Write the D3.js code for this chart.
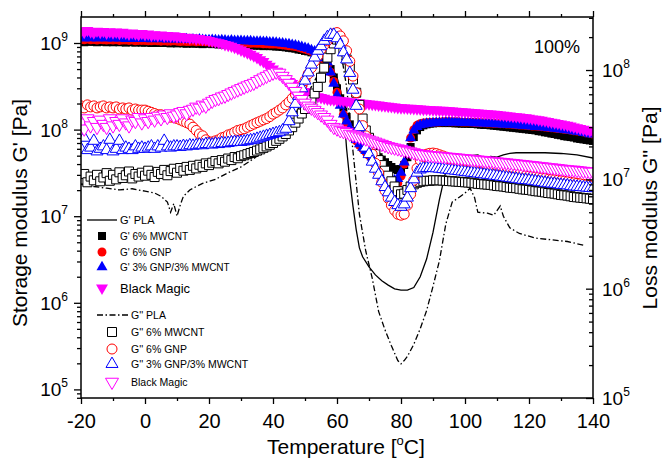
<!DOCTYPE html>
<html>
<head>
<meta charset="utf-8">
<script src="https://cdn.jsdelivr.net/npm/d3@7"></script>
<style>
html, body { margin: 0; padding: 0; background: #fff; }
svg { display: block; font-family: "Liberation Sans", Arial, sans-serif; }
</style>
</head>
<body>
<svg id="chart" width="663" height="459"></svg>
<script>
// ---- Temperature of each DMA reading [°C] ----
const temps = [
  -20,-19,-18,-17,-16,-15,-14,-13,-12,-11,
  -10,-9,-8,-7,-6,-5,-4,-3,-2,-1,
  0,1,2,3,4,5,6,7,8,9,
  10,11,12,13,14,15,16,17,18,19,
  20,21,22,23,24,25,26,27,28,29,
  30,31,32,33,34,35,36,37,38,39,
  40,41,42,43,44,45,46,47,48,49,
  50,51,52,53,54,55,56,57,58,59,
  60,61,62,63,64,65,66,67,68,69,
  70,71,72,73,74,75,76,77,78,79,
  80,81,82,83,84,85,86,87,88,89,
  90,91,92,93,94,95,96,97,98,99,
  100,101,102,103,104,105,106,107,108,109,
  110,111,112,113,114,115,116,117,118,119,
  120,121,122,123,124,125,126,127,128,129,
  130,131,132,133,134,135,136,137,138,139,
  140
];

// ---- Storage modulus G' [Pa] ----
const gMWCNT = [
  1.04e9,1.02e9,1.05e9,1.03e9,1.04e9,1.02e9,1.03e9,1.05e9,1.02e9,1.03e9,
  1.02e9,1.04e9,1.02e9,1.03e9,1.01e9,1.03e9,1.02e9,1.01e9,1.03e9,1.01e9,
  1.01e9,1.02e9,1.0e9,1.02e9,1.0e9,1.01e9,1.0e9,1.02e9,9.9e8,1.0e9,
  9.9e8,1.0e9,9.9e8,9.8e8,1.0e9,9.8e8,9.9e8,9.8e8,9.7e8,9.9e8,
  9.8e8,9.7e8,9.8e8,9.6e8,9.7e8,9.6e8,9.7e8,9.5e8,9.6e8,9.5e8,
  9.5e8,9.4e8,9.5e8,9.4e8,9.3e8,9.4e8,9.3e8,9.2e8,9.3e8,9.2e8,
  9.2e8,9.1e8,9.1e8,9.0e8,8.9e8,8.8e8,8.7e8,8.6e8,8.4e8,8.3e8,
  8.1e8,8.0e8,7.8e8,7.6e8,7.3e8,7.0e8,6.5e8,5.9e8,5.0e8,4.0e8,
  3.0e8,2.3e8,1.8e8,1.4e8,1.15e8,9.6e7,8.4e7,7.6e7,7.0e7,6.5e7,
  6.0e7,5.6e7,5.2e7,4.8e7,4.5e7,4.2e7,3.9e7,3.7e7,3.5e7,3.4e7,
  3.5e7,3.9e7,4.8e7,6.3e7,8.2e7,9.8e7,1.07e8,1.12e8,1.15e8,1.17e8,
  1.18e8,1.19e8,1.19e8,1.19e8,1.19e8,1.19e8,1.19e8,1.18e8,1.18e8,1.17e8,
  1.17e8,1.17e8,1.16e8,1.16e8,1.15e8,1.14e8,1.13e8,1.13e8,1.12e8,1.11e8,
  1.1e8,1.09e8,1.08e8,1.07e8,1.06e8,1.05e8,1.04e8,1.03e8,1.02e8,1.01e8,
  1.0e8,9.9e7,9.8e7,9.6e7,9.5e7,9.3e7,9.2e7,9.0e7,8.9e7,8.7e7,
  8.6e7,8.4e7,8.3e7,8.2e7,8.1e7,7.9e7,7.8e7,7.7e7,7.6e7,7.5e7,
  7.4e7
];
const gGNP = [
  1.1e9,1.09e9,1.11e9,1.09e9,1.1e9,1.08e9,1.1e9,1.09e9,1.08e9,1.09e9,
  1.08e9,1.09e9,1.07e9,1.08e9,1.08e9,1.07e9,1.08e9,1.06e9,1.07e9,1.07e9,
  1.07e9,1.06e9,1.06e9,1.07e9,1.06e9,1.05e9,1.06e9,1.05e9,1.05e9,1.06e9,
  1.05e9,1.04e9,1.05e9,1.04e9,1.04e9,1.05e9,1.03e9,1.04e9,1.04e9,1.03e9,
  1.03e9,1.02e9,1.03e9,1.02e9,1.02e9,1.01e9,1.02e9,1.01e9,1.01e9,1.0e9,
  1.01e9,1.0e9,1.0e9,9.9e8,1.0e9,9.9e8,9.9e8,9.8e8,9.8e8,9.7e8,
  9.7e8,9.7e8,9.6e8,9.5e8,9.4e8,9.3e8,9.2e8,9.1e8,8.9e8,8.7e8,
  8.5e8,8.3e8,8.0e8,7.7e8,7.4e8,7.0e8,6.4e8,5.6e8,4.6e8,3.6e8,
  2.7e8,2.0e8,1.5e8,1.2e8,1.0e8,8.5e7,7.4e7,6.6e7,6.0e7,5.5e7,
  5.0e7,4.5e7,4.0e7,3.6e7,3.2e7,2.9e7,2.6e7,2.4e7,2.3e7,2.4e7,
  2.9e7,4.0e7,5.6e7,8.0e7,1.0e8,1.12e8,1.17e8,1.19e8,1.2e8,1.21e8,
  1.22e8,1.22e8,1.22e8,1.23e8,1.23e8,1.23e8,1.23e8,1.23e8,1.23e8,1.22e8,
  1.22e8,1.22e8,1.22e8,1.21e8,1.21e8,1.2e8,1.2e8,1.19e8,1.19e8,1.18e8,
  1.18e8,1.17e8,1.17e8,1.16e8,1.16e8,1.15e8,1.14e8,1.13e8,1.13e8,1.12e8,
  1.11e8,1.1e8,1.1e8,1.09e8,1.08e8,1.07e8,1.06e8,1.05e8,1.04e8,1.03e8,
  1.02e8,1.01e8,1.0e8,9.9e7,9.7e7,9.6e7,9.5e7,9.4e7,9.2e7,9.1e7,
  8.9e7
];
const gHybrid = [
  1.15e9,1.13e9,1.17e9,1.14e9,1.16e9,1.13e9,1.15e9,1.17e9,1.13e9,1.15e9,
  1.13e9,1.16e9,1.13e9,1.14e9,1.12e9,1.15e9,1.13e9,1.12e9,1.14e9,1.12e9,
  1.12e9,1.14e9,1.11e9,1.12e9,1.13e9,1.11e9,1.12e9,1.1e9,1.12e9,1.11e9,
  1.1e9,1.12e9,1.1e9,1.11e9,1.09e9,1.1e9,1.09e9,1.1e9,1.09e9,1.08e9,
  1.08e9,1.09e9,1.08e9,1.07e9,1.08e9,1.07e9,1.06e9,1.07e9,1.06e9,1.06e9,
  1.06e9,1.05e9,1.05e9,1.05e9,1.04e9,1.04e9,1.04e9,1.03e9,1.03e9,1.02e9,
  1.02e9,1.01e9,1.0e9,9.9e8,9.8e8,9.7e8,9.5e8,9.4e8,9.2e8,9.0e8,
  8.8e8,8.6e8,8.3e8,8.0e8,7.7e8,7.3e8,6.7e8,6.0e8,4.6e8,3.4e8,
  2.5e8,1.9e8,1.5e8,1.25e8,1.05e8,9.0e7,7.6e7,6.8e7,6.2e7,5.7e7,
  5.3e7,4.8e7,4.3e7,3.9e7,3.5e7,3.2e7,2.9e7,2.7e7,2.6e7,2.7e7,
  3.2e7,4.2e7,5.8e7,8.0e7,9.8e7,1.08e8,1.13e8,1.15e8,1.17e8,1.18e8,
  1.19e8,1.2e8,1.2e8,1.2e8,1.21e8,1.21e8,1.21e8,1.21e8,1.21e8,1.2e8,
  1.2e8,1.2e8,1.2e8,1.19e8,1.19e8,1.19e8,1.18e8,1.18e8,1.17e8,1.17e8,
  1.16e8,1.16e8,1.15e8,1.15e8,1.14e8,1.14e8,1.13e8,1.12e8,1.11e8,1.11e8,
  1.1e8,1.09e8,1.08e8,1.08e8,1.07e8,1.06e8,1.05e8,1.04e8,1.03e8,1.02e8,
  1.01e8,1.0e8,9.9e7,9.8e7,9.6e7,9.5e7,9.4e7,9.2e7,9.1e7,8.9e7,
  8.8e7
];
const gBlackMagic = [
  1.38e9,1.33e9,1.40e9,1.35e9,1.31e9,1.37e9,1.33e9,1.36e9,1.30e9,1.35e9,
  1.31e9,1.34e9,1.29e9,1.33e9,1.30e9,1.27e9,1.31e9,1.28e9,1.25e9,1.29e9,
  1.25e9,1.27e9,1.23e9,1.25e9,1.22e9,1.24e9,1.21e9,1.22e9,1.2e9,1.21e9,
  1.18e9,1.19e9,1.16e9,1.17e9,1.14e9,1.15e9,1.12e9,1.13e9,1.1e9,1.1e9,
  1.07e9,1.05e9,1.03e9,1.01e9,9.9e8,9.6e8,9.4e8,9.2e8,8.9e8,8.6e8,
  8.3e8,8.0e8,7.7e8,7.4e8,7.1e8,6.8e8,6.4e8,6.1e8,5.7e8,5.4e8,
  5.0e8,4.7e8,4.4e8,4.1e8,3.9e8,3.6e8,3.4e8,3.2e8,3.0e8,2.9e8,
  2.75e8,2.65e8,2.55e8,2.47e8,2.4e8,2.35e8,2.3e8,2.25e8,2.22e8,2.2e8,
  2.18e8,2.16e8,2.14e8,2.12e8,2.1e8,2.08e8,2.06e8,2.04e8,2.02e8,2.0e8,
  1.98e8,1.96e8,1.94e8,1.92e8,1.9e8,1.88e8,1.86e8,1.84e8,1.82e8,1.8e8,
  1.79e8,1.78e8,1.77e8,1.76e8,1.75e8,1.74e8,1.73e8,1.72e8,1.71e8,1.7e8,
  1.69e8,1.68e8,1.67e8,1.67e8,1.66e8,1.65e8,1.64e8,1.63e8,1.62e8,1.61e8,
  1.6e8,1.59e8,1.58e8,1.57e8,1.56e8,1.55e8,1.54e8,1.53e8,1.52e8,1.51e8,
  1.5e8,1.48e8,1.47e8,1.45e8,1.44e8,1.42e8,1.41e8,1.4e8,1.38e8,1.37e8,
  1.35e8,1.33e8,1.32e8,1.3e8,1.28e8,1.26e8,1.24e8,1.22e8,1.2e8,1.18e8,
  1.16e8,1.14e8,1.12e8,1.1e8,1.07e8,1.05e8,1.03e8,1.01e8,9.9e7,9.7e7,
  9.5e7
];

// ---- Loss modulus G'' [Pa] ----
const lMWCNT = [
  1.0e7,1.12e7,9.4e6,1.06e7,9.8e6,1.1e7,9.6e6,1.04e7,1.14e7,9.7e6,
  1.1e7,1.0e7,1.16e7,1.03e7,1.09e7,1.18e7,1.02e7,1.12e7,1.06e7,1.15e7,
  1.08e7,1.2e7,1.1e7,1.05e7,1.17e7,1.12e7,1.22e7,1.09e7,1.19e7,1.25e7,
  1.15e7,1.27e7,1.2e7,1.3e7,1.22e7,1.33e7,1.26e7,1.36e7,1.3e7,1.4e7,
  1.35e7,1.42e7,1.47e7,1.4e7,1.5e7,1.45e7,1.55e7,1.5e7,1.6e7,1.56e7,
  1.63e7,1.66e7,1.7e7,1.74e7,1.78e7,1.83e7,1.88e7,1.94e7,2.0e7,2.07e7,
  2.15e7,2.25e7,2.35e7,2.47e7,2.6e7,2.8e7,3.0e7,3.3e7,3.6e7,4.0e7,
  4.4e7,4.8e7,5.3e7,6.1e7,7.0e7,8.5e7,1.05e8,1.3e8,1.55e8,1.75e8,
  1.9e8,1.8e8,1.5e8,1.25e8,1.05e8,8.2e7,6.2e7,4.8e7,3.6e7,2.8e7,
  2.4e7,2.0e7,1.7e7,1.5e7,1.35e7,1.2e7,1.08e7,9.6e6,8.6e6,7.8e6,
  7.3e6,7.4e6,8.0e6,8.6e6,9.0e6,9.3e6,9.5e6,9.6e6,9.7e6,9.7e6,
  9.8e6,9.8e6,9.8e6,9.75e6,9.7e6,9.65e6,9.6e6,9.55e6,9.5e6,9.45e6,
  9.4e6,9.35e6,9.3e6,9.2e6,9.1e6,9.05e6,9.0e6,8.95e6,8.9e6,8.8e6,
  8.7e6,8.65e6,8.6e6,8.5e6,8.4e6,8.35e6,8.3e6,8.2e6,8.1e6,8.05e6,
  8.0e6,7.9e6,7.8e6,7.75e6,7.7e6,7.6e6,7.5e6,7.45e6,7.4e6,7.3e6,
  7.2e6,7.15e6,7.1e6,7.0e6,6.9e6,6.85e6,6.8e6,6.75e6,6.7e6,6.65e6,
  6.6e6
];
const lGNP = [
  4.7e7,4.5e7,4.8e7,4.6e7,4.7e7,4.5e7,4.6e7,4.7e7,4.5e7,4.6e7,
  4.5e7,4.6e7,4.4e7,4.5e7,4.4e7,4.5e7,4.3e7,4.4e7,4.3e7,4.3e7,
  4.3e7,4.2e7,4.1e7,4.0e7,3.9e7,3.9e7,3.8e7,3.8e7,3.7e7,3.7e7,
  3.6e7,3.5e7,3.4e7,3.3e7,3.2e7,3.0e7,2.8e7,2.6e7,2.5e7,2.3e7,
  2.2e7,2.2e7,2.25e7,2.3e7,2.4e7,2.45e7,2.55e7,2.6e7,2.7e7,2.8e7,
  2.85e7,2.9e7,3.0e7,3.1e7,3.2e7,3.3e7,3.4e7,3.5e7,3.6e7,3.75e7,
  3.95e7,4.1e7,4.3e7,4.5e7,4.8e7,5.1e7,5.5e7,6.0e7,6.5e7,7.2e7,
  8.0e7,9.2e7,1.05e8,1.2e8,1.35e8,1.55e8,1.7e8,1.85e8,2.0e8,2.15e8,
  2.2e8,2.05e8,1.85e8,1.5e8,1.2e8,8.8e7,6.2e7,4.4e7,3.1e7,2.5e7,
  2.05e7,1.7e7,1.4e7,1.15e7,9.4e6,7.9e6,6.7e6,5.8e6,5.2e6,4.8e6,
  4.7e6,4.8e6,5.8e6,7.3e6,9.8e6,1.26e7,1.5e7,1.62e7,1.7e7,1.73e7,
  1.74e7,1.72e7,1.68e7,1.64e7,1.6e7,1.54e7,1.48e7,1.44e7,1.4e7,1.36e7,
  1.33e7,1.31e7,1.3e7,1.29e7,1.27e7,1.26e7,1.25e7,1.24e7,1.22e7,1.21e7,
  1.2e7,1.19e7,1.18e7,1.16e7,1.15e7,1.14e7,1.12e7,1.11e7,1.1e7,1.08e7,
  1.07e7,1.06e7,1.05e7,1.04e7,1.03e7,1.02e7,1.0e7,9.95e6,9.9e6,9.8e6,
  9.7e6,9.6e6,9.5e6,9.4e6,9.3e6,9.2e6,9.1e6,9.0e6,8.9e6,8.8e6,
  8.7e6
];
const lHybrid = [
  1.9e7,2.4e7,1.85e7,1.95e7,2.25e7,1.8e7,1.9e7,2.0e7,1.85e7,2.3e7,
  1.8e7,1.9e7,2.25e7,1.85e7,1.95e7,1.9e7,1.85e7,2.0e7,1.9e7,1.95e7,
  1.9e7,1.95e7,2.0e7,1.9e7,2.0e7,1.95e7,2.25e7,2.0e7,1.95e7,2.0e7,
  2.0e7,1.98e7,2.02e7,2.0e7,2.05e7,2.03e7,2.05e7,2.08e7,2.05e7,2.1e7,
  2.1e7,2.08e7,2.12e7,2.1e7,2.15e7,2.13e7,2.15e7,2.18e7,2.2e7,2.2e7,
  2.2e7,2.22e7,2.25e7,2.28e7,2.3e7,2.35e7,2.4e7,2.45e7,2.5e7,2.55e7,
  2.6e7,2.65e7,2.7e7,2.8e7,2.9e7,3.4e7,4.1e7,4.9e7,5.8e7,6.8e7,
  8.0e7,9.5e7,1.12e8,1.3e8,1.5e8,1.65e8,1.85e8,2.0e8,2.1e8,2.1e8,
  1.95e8,1.7e8,1.45e8,1.25e8,9.4e7,6.6e7,4.7e7,3.0e7,2.4e7,1.95e7,
  1.7e7,1.45e7,1.25e7,1.1e7,9.6e6,8.5e6,7.6e6,6.8e6,6.2e6,5.8e6,
  5.6e6,5.9e6,6.8e6,8.3e6,1.0e7,1.15e7,1.23e7,1.26e7,1.27e7,1.27e7,
  1.27e7,1.26e7,1.25e7,1.24e7,1.23e7,1.22e7,1.21e7,1.2e7,1.19e7,1.18e7,
  1.17e7,1.16e7,1.15e7,1.14e7,1.13e7,1.12e7,1.11e7,1.1e7,1.09e7,1.08e7,
  1.07e7,1.06e7,1.05e7,1.04e7,1.03e7,1.02e7,1.01e7,1.0e7,9.9e6,9.85e6,
  9.8e6,9.7e6,9.6e6,9.5e6,9.4e6,9.3e6,9.2e6,9.15e6,9.1e6,9.0e6,
  8.9e6,8.85e6,8.8e6,8.7e6,8.6e6,8.55e6,8.5e6,8.45e6,8.4e6,8.35e6,
  8.3e6
];
const lBlackMagic = [
  3.3e7,2.9e7,3.6e7,3.1e7,3.4e7,3.0e7,3.5e7,3.2e7,3.0e7,3.6e7,
  3.1e7,3.4e7,3.2e7,3.6e7,3.3e7,3.1e7,3.5e7,3.4e7,3.7e7,3.3e7,
  3.6e7,3.4e7,3.7e7,3.5e7,3.8e7,3.6e7,3.9e7,3.7e7,4.0e7,3.8e7,
  3.9e7,4.1e7,4.2e7,4.0e7,4.3e7,4.4e7,4.6e7,4.5e7,4.8e7,4.7e7,
  5.0e7,5.2e7,5.4e7,5.5e7,5.7e7,5.8e7,6.0e7,6.2e7,6.4e7,6.6e7,
  6.8e7,7.0e7,7.2e7,7.4e7,7.6e7,7.9e7,8.2e7,8.5e7,8.8e7,9.1e7,
  9.4e7,9.6e7,9.4e7,8.8e7,8.2e7,7.6e7,7.0e7,6.4e7,5.8e7,5.4e7,
  5.0e7,4.7e7,4.5e7,4.3e7,4.1e7,3.9e7,3.7e7,3.5e7,3.2e7,3.0e7,
  2.9e7,2.8e7,2.75e7,2.7e7,2.6e7,2.55e7,2.5e7,2.45e7,2.4e7,2.35e7,
  2.3e7,2.25e7,2.2e7,2.15e7,2.1e7,2.05e7,2.0e7,1.97e7,1.94e7,1.91e7,
  1.88e7,1.85e7,1.82e7,1.79e7,1.76e7,1.73e7,1.7e7,1.69e7,1.68e7,1.66e7,
  1.65e7,1.64e7,1.63e7,1.62e7,1.61e7,1.6e7,1.59e7,1.58e7,1.57e7,1.56e7,
  1.55e7,1.54e7,1.53e7,1.52e7,1.51e7,1.5e7,1.49e7,1.48e7,1.47e7,1.46e7,
  1.45e7,1.44e7,1.43e7,1.42e7,1.41e7,1.4e7,1.39e7,1.38e7,1.37e7,1.36e7,
  1.35e7,1.34e7,1.33e7,1.32e7,1.31e7,1.3e7,1.29e7,1.28e7,1.27e7,1.26e7,
  1.25e7,1.24e7,1.23e7,1.22e7,1.22e7,1.21e7,1.2e7,1.19e7,1.18e7,1.17e7,
  1.17e7
];

// ---- Neat PLA, drawn as lines ----
const plaStorageT = [-20,-10,0,10,20,30,40,45,50,54,56,58,60,61,62,63,64,65,66,67,68,70,72,74,76,78,80,82,84,86,88,90,92,94,96,98,100,102,104,106,108,110,112,114,116,120,125,130,135,140];
const plaStorage = [1.08e9,1.06e9,1.04e9,1.02e9,1.0e9,9.7e8,9.2e8,8.8e8,8.2e8,7.4e8,6.7e8,5.6e8,4.0e8,3.0e8,1.9e8,6.0e7,2.6e7,1.3e7,7.0e6,4.3e6,3.4e6,2.6e6,2.1e6,1.8e6,1.6e6,1.45e6,1.4e6,1.4e6,1.5e6,2.0e6,3.2e6,6.5e6,1.55e7,3.3e7,4.5e7,4.8e7,4.6e7,5.0e7,5.1e7,4.7e7,4.9e7,4.8e7,5.1e7,5.3e7,5.4e7,5.4e7,5.4e7,5.3e7,5.1e7,4.7e7];
const plaLossT = [-20,-16,-12,-8,-4,0,3,5,7,8,9,10,11,12,14,18,22,26,30,34,38,42,46,50,54,57,59,61,63,65,67,69,71,73,75,77,79,80,81,82,84,86,88,90,92,94,96,98,100,101.6,103,104,107,109,111,112,114,117,122,127,132,137];
const plaLoss = [9.0e6,8.6e6,8.3e6,8.0e6,8.2e6,7.8e6,7.5e6,7.0e6,6.2e6,5.0e6,6.0e6,4.6e6,5.8e6,7.0e6,8.0e6,9.2e6,1.0e7,1.15e7,1.3e7,1.55e7,1.9e7,2.5e7,3.6e7,5.5e7,9.0e7,1.35e8,1.7e8,1.6e8,7.0e7,1.8e7,4.8e6,2.2e6,1.25e6,6.2e5,4.2e5,3.0e5,2.2e5,2.05e5,2.2e5,2.4e5,3.1e5,4.3e5,6.3e5,1.05e6,1.8e6,3.9e6,6.2e6,6.8e6,7.5e6,8.3e6,6.8e6,5.0e6,4.9e6,4.7e6,5.7e6,4.6e6,3.6e6,3.2e6,2.9e6,2.8e6,2.7e6,2.5e6];

// ---- Axis ticks ----
const xMajor = [-20,0,20,40,60,80,100,120,140];
const xMinor = [-10,10,30,50,70,90,110,130];
const leftDecades = [5,6,7,8,9];
const rightDecades = [5,6,7,8];

// ---------------------------------------------------------------
const svg = d3.select("#chart");
const L = 81, R = 593, T = 17, B = 398;

const x = d3.scaleLinear().domain([-20, 140]).range([L, R]);
const yL = d3.scaleLog().domain([Math.pow(10, 4.9007), Math.pow(10, 9.3002)]).range([B, T]);
const yR = d3.scaleLog().domain([1e5, Math.pow(10, 8.485)]).range([B, T]);

svg.append("defs").append("clipPath").attr("id", "plotClip")
  .append("rect").attr("x", L).attr("y", T).attr("width", R - L).attr("height", B - T);

const plot = svg.append("g").attr("clip-path", "url(#plotClip)");

// PLA lines
const lineL = d3.line().x(d => x(d[0])).y(d => yL(d[1]));
const lineR = d3.line().x(d => x(d[0])).y(d => yR(d[1]));
plot.append("path").datum(d3.zip(plaStorageT, plaStorage))
  .attr("d", lineL).attr("fill", "none").attr("stroke", "#000").attr("stroke-width", 1.3);
plot.append("path").datum(d3.zip(plaLossT, plaLoss))
  .attr("d", lineR).attr("fill", "none").attr("stroke", "#000").attr("stroke-width", 1.3)
  .attr("stroke-dasharray", "6,2.5,1.5,2.5");

const triArea = a => Math.sqrt(3) / 4 * a * a;
const markerStyles = {
  sqF:  { type: d3.symbolSquare,   size: 64,           fill: "#000",    stroke: "none", rot: 0 },
  ciF:  { type: d3.symbolCircle,   size: Math.PI * 20, fill: "#ff0000", stroke: "none", rot: 0 },
  trF:  { type: d3.symbolTriangle, size: triArea(11),  fill: "#0000ff", stroke: "none", rot: 0 },
  tdF:  { type: d3.symbolTriangle, size: triArea(12),  fill: "#ff00ff", stroke: "none", rot: 180 },
  sqO:  { type: d3.symbolSquare,   size: 81,           fill: "#fff",    stroke: "#000",    rot: 0 },
  ciO:  { type: d3.symbolCircle,   size: Math.PI * 25, fill: "#fff",    stroke: "#ff0000", rot: 0 },
  trO:  { type: d3.symbolTriangle, size: triArea(12),  fill: "#fff",    stroke: "#0000ff", rot: 0 },
  tdO:  { type: d3.symbolTriangle, size: triArea(13),  fill: "#fff",    stroke: "#ff00ff", rot: 180 }
};

function drawMarkers(sel, vals, yScale, key) {
  const st = markerStyles[key];
  const sym = d3.symbol().type(st.type).size(st.size)();
  sel.append("g").selectAll("path").data(d3.zip(temps, vals)).join("path")
    .attr("d", sym)
    .attr("transform", d => `translate(${x(d[0])},${yScale(d[1])}) rotate(${st.rot})`)
    .attr("fill", st.fill)
    .attr("stroke", st.stroke)
    .attr("stroke-width", 1);
}

drawMarkers(plot, gMWCNT, yL, "sqF");
drawMarkers(plot, gGNP, yL, "ciF");
drawMarkers(plot, gHybrid, yL, "trF");
drawMarkers(plot, gBlackMagic, yL, "tdF");
drawMarkers(plot, lMWCNT, yR, "sqO");
drawMarkers(plot, lGNP, yR, "ciO");
drawMarkers(plot, lHybrid, yR, "trO");
drawMarkers(plot, lBlackMagic, yR, "tdO");

// ---- axes ----
const axisG = svg.append("g");
function styleAxis(g) {
  g.select(".domain").remove();
  g.selectAll(".tick line").attr("stroke", "#000").attr("stroke-width", 1.3);
}

// bottom
axisG.append("g").attr("transform", `translate(0,${B})`)
  .call(d3.axisBottom(x).tickValues(xMajor).tickSize(6).tickSizeOuter(0).tickPadding(10)
    .tickFormat(d => d))
  .call(styleAxis)
  .call(g => g.selectAll(".tick text").attr("font-size", 20).attr("fill", "#000")
    .attr("font-family", "Liberation Sans, Arial, sans-serif"));
axisG.append("g").attr("transform", `translate(0,${B})`)
  .call(d3.axisBottom(x).tickValues(xMinor).tickSize(3).tickSizeOuter(0).tickFormat(""))
  .call(styleAxis);
// top
axisG.append("g").attr("transform", `translate(0,${T})`)
  .call(d3.axisTop(x).tickValues(xMajor).tickSize(6).tickSizeOuter(0).tickFormat(""))
  .call(styleAxis);
axisG.append("g").attr("transform", `translate(0,${T})`)
  .call(d3.axisTop(x).tickValues(xMinor).tickSize(3).tickSizeOuter(0).tickFormat(""))
  .call(styleAxis);

function minorsFor(scale) {
  const [a, b] = scale.domain();
  const out = [];
  for (let e = Math.floor(Math.log10(a)); e <= Math.ceil(Math.log10(b)); e++) {
    for (let k = 2; k <= 9; k++) {
      const v = k * Math.pow(10, e);
      if (v >= a && v <= b) out.push(v);
    }
  }
  return out;
}

// left
axisG.append("g").attr("transform", `translate(${L},0)`)
  .call(d3.axisLeft(yL).tickValues(leftDecades.map(e => Math.pow(10, e))).tickSize(7).tickSizeOuter(0).tickFormat(""))
  .call(styleAxis);
axisG.append("g").attr("transform", `translate(${L},0)`)
  .call(d3.axisLeft(yL).tickValues(minorsFor(yL)).tickSize(4).tickSizeOuter(0).tickFormat(""))
  .call(styleAxis);
// right (ticks point into the plot)
axisG.append("g").attr("transform", `translate(${R},0)`)
  .call(d3.axisLeft(yR).tickValues(rightDecades.map(e => Math.pow(10, e))).tickSize(7).tickSizeOuter(0).tickFormat(""))
  .call(styleAxis);
axisG.append("g").attr("transform", `translate(${R},0)`)
  .call(d3.axisLeft(yR).tickValues(minorsFor(yR)).tickSize(4).tickSizeOuter(0).tickFormat(""))
  .call(styleAxis);

// frame
axisG.append("rect").attr("x", L).attr("y", T).attr("width", R - L).attr("height", B - T)
  .attr("fill", "none").attr("stroke", "#000").attr("stroke-width", 1.5);

// power-of-ten labels
function powLabel(g, xPos, yPos, e, anchor) {
  const t = g.append("text").attr("x", xPos).attr("y", yPos).attr("text-anchor", anchor)
    .attr("fill", "#000");
  t.append("tspan").attr("font-size", 19).text("10");
  t.append("tspan").attr("font-size", 12).attr("dy", -9).text(e);
}
const labG = svg.append("g");
leftDecades.forEach(e => powLabel(labG, 68, yL(Math.pow(10, e)) + 7, e, "end"));
rightDecades.forEach(e => powLabel(labG, 602, yR(Math.pow(10, e)) + 7, e, "start"));

// axis titles
const xt = labG.append("text").attr("x", 267).attr("y", 454).attr("fill", "#000");
xt.append("tspan").attr("font-size", 21).text("Temperature [");
xt.append("tspan").attr("font-size", 13).attr("dy", -9).text("o");
xt.append("tspan").attr("font-size", 21).attr("dy", 9).text("C]");

labG.append("text").attr("transform", "translate(27,213) rotate(-90)")
  .attr("text-anchor", "middle").attr("font-size", 21).attr("fill", "#000")
  .text("Storage modulus G' [Pa]");
labG.append("text").attr("transform", "translate(657,208) rotate(-90)")
  .attr("text-anchor", "middle").attr("font-size", 21).attr("fill", "#000")
  .text("Loss modulus G'' [Pa]");

labG.append("text").attr("x", 534).attr("y", 53).attr("font-size", 18).attr("fill", "#000")
  .text("100%");

// ---- legends ----
const legendUpper = [
  { label: "G' PLA", kind: "line", dash: null, y: 220, fs: 11 },
  { label: "G' 6% MWCNT", kind: "sqF", y: 236, fs: 10 },
  { label: "G' 6% GNP", kind: "ciF", y: 252, fs: 10 },
  { label: "G' 3% GNP/3% MWCNT", kind: "trF", y: 267, fs: 10 },
  { label: "Black Magic", kind: "tdF", y: 288, fs: 13 }
];
const legendLower = [
  { label: "G'' PLA", kind: "line", dash: "6,2.5,1.5,2.5", y: 315, fs: 10.5 },
  { label: "G'' 6% MWCNT", kind: "sqO", y: 332, fs: 10.5 },
  { label: "G'' 6% GNP", kind: "ciO", y: 349, fs: 10.5 },
  { label: "G'' 3% GNP/3% MWCNT", kind: "trO", y: 364, fs: 10.5 },
  { label: "Black Magic", kind: "tdO", y: 382, fs: 10.5 }
];

function drawLegend(items, markX, lineX0, lineX1, textX) {
  const g = svg.append("g");
  items.forEach(it => {
    if (it.kind === "line") {
      g.append("line").attr("x1", lineX0).attr("x2", lineX1).attr("y1", it.y).attr("y2", it.y)
        .attr("stroke", "#000").attr("stroke-width", 1.3)
        .attr("stroke-dasharray", it.dash);
    } else {
      const st = markerStyles[it.kind];
      g.append("path").attr("d", d3.symbol().type(st.type).size(st.size)())
        .attr("transform", `translate(${markX},${it.y}) rotate(${st.rot})`)
        .attr("fill", st.fill).attr("stroke", st.stroke).attr("stroke-width", 1);
    }
    g.append("text").attr("x", textX).attr("y", it.y + it.fs * 0.36)
      .attr("font-size", it.fs).attr("fill", "#000").text(it.label);
  });
}
drawLegend(legendUpper, 102, 87, 117, 120);
drawLegend(legendLower, 112, 97, 130, 131);
</script>
</body>
</html>
